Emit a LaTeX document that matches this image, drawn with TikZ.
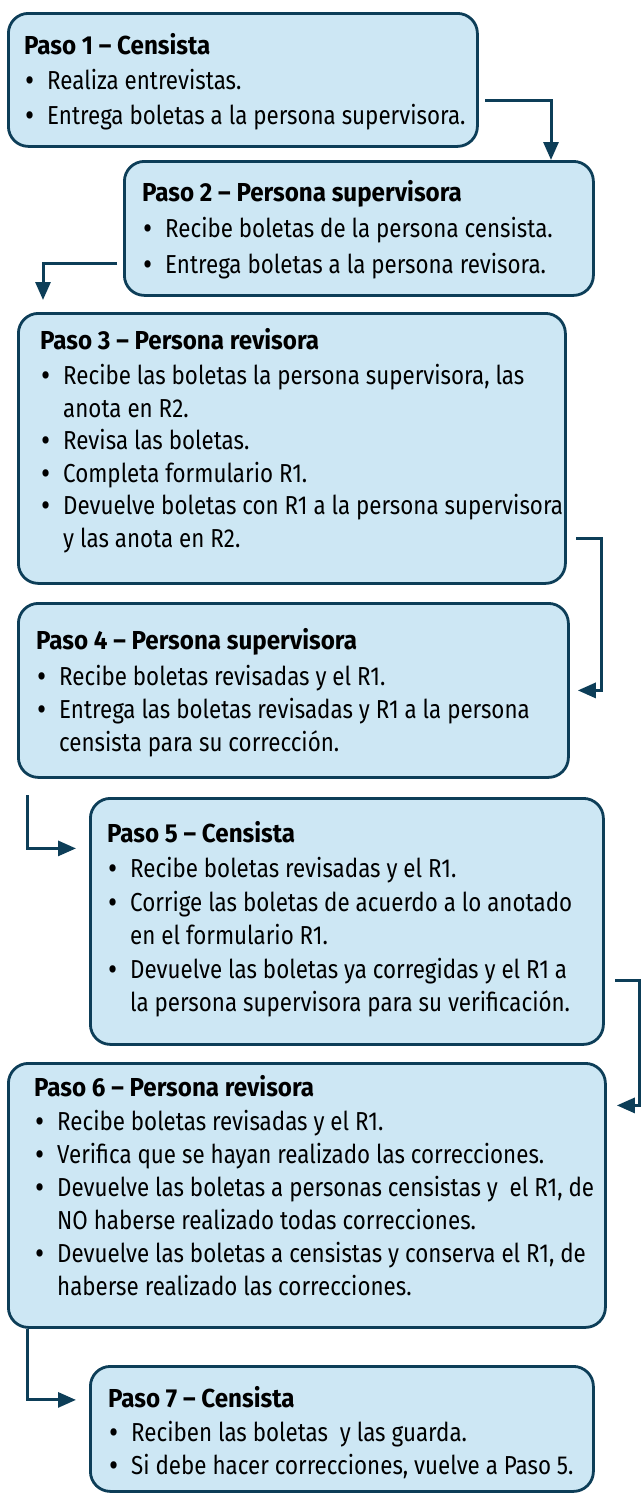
\documentclass[tikz,border=0pt]{standalone}
\usepackage{fontspec}
\setmainfont{Fira Sans}[FakeStretch=0.86,BoldFeatures={FakeStretch=0.93}]
\usetikzlibrary{arrows.meta,calc}
\definecolor{boxfill}{HTML}{CDE7F4}
\definecolor{boxline}{HTML}{0D3E58}
\newcommand{\bul}[1]{\hspace*{1pt}\makebox[22pt][l]{\raisebox{-2pt}{\scalebox{1.25}{\textbullet}}}#1}
\newcommand{\cnt}[1]{\hspace*{23pt}#1}
\newcommand{\ttl}[1]{\rule{0pt}{18pt}\textbf{#1}}
\begin{document}
\begin{tikzpicture}[x=1pt,y=-1pt,
  box/.style={draw=boxline,fill=boxfill,line width=2.8pt,rounded corners=20pt,
    rectangle,inner sep=0pt,anchor=north west},
  txt/.style={anchor=north west,inner sep=0pt,align=left,text=black},
  arr/.style={draw=boxline,line width=3pt,-{Triangle[length=18pt,width=15pt]}}]
\useasboundingbox (0,0) rectangle (641,1494);
% boxes
\node[box,minimum width=469pt,minimum height=133pt] (b1) at (7,12) {};
\node[box,minimum width=469pt,minimum height=134pt] (b2) at (123,160) {};
\node[box,minimum width=547pt,minimum height=270pt] (b3) at (17,312) {};
\node[box,minimum width=550pt,minimum height=174pt] (b4) at (17,602) {};
\node[box,minimum width=513pt,minimum height=246pt] (b5) at (89,797) {};
\node[box,minimum width=597pt,minimum height=264pt] (b6) at (7,1062) {};
\node[box,minimum width=503pt,minimum height=125pt] (b7) at (89,1365) {};
% texts
\node[txt,font={\fontsize{26}{35}\selectfont}] (t1) at (24,33) {%
\ttl{Paso 1 – Censista}\\
\bul{Realiza entrevistas.}\\
\bul{Entrega boletas a la persona supervisora.}};
\node[txt,font={\fontsize{26}{36}\selectfont}] (t2) at (142,180) {%
\ttl{Paso 2 – Persona supervisora}\\
\bul{Recibe boletas de la persona censista.}\\
\bul{Entrega boletas a la persona revisora.}};
\node[txt,font={\fontsize{26}{32.5}\selectfont}] (t3) at (40,328) {%
\ttl{Paso 3 – Persona revisora}\\[3pt]
\bul{Recibe las boletas la persona supervisora, las}\\
\cnt{anota en R2.}\\
\bul{Revisa las boletas.}\\
\bul{Completa formulario R1.}\\
\bul{Devuelve boletas con R1 a la persona supervisora}\\
\cnt{y las anota en R2.}};
\node[txt,font={\fontsize{26}{33}\selectfont}] (t4) at (36,628) {%
\ttl{Paso 4 – Persona supervisora}\\[3pt]
\bul{Recibe boletas revisadas y el R1.}\\
\bul{Entrega las boletas revisadas y R1 a la persona}\\
\cnt{censista para su corrección.}};
\node[txt,font={\fontsize{26}{33.5}\selectfont}] (t5) at (107,821) {%
\ttl{Paso 5 – Censista}\\[2pt]
\bul{Recibe boletas revisadas y el R1.}\\
\bul{Corrige las boletas de acuerdo a lo anotado}\\
\cnt{en el formulario R1.}\\
\bul{Devuelve las boletas ya corregidas y el R1 a}\\
\cnt{la persona supervisora para su verificación.}};
\node[txt,font={\fontsize{26}{33}\selectfont}] (t6) at (34,1075) {%
\ttl{Paso 6 – Persona revisora}\\[1pt]
\bul{Recibe boletas revisadas y el R1.}\\
\bul{Verifica que se hayan realizado las correcciones.}\\
\bul{Devuelve las boletas a personas censistas y \ el R1, de}\\
\cnt{NO haberse realizado todas correcciones.}\\
\bul{Devuelve las boletas a censistas y conserva el R1, de}\\
\cnt{haberse realizado las correcciones.}};
\node[txt,font={\fontsize{26}{33}\selectfont}] (t7) at (108,1386) {%
\ttl{Paso 7 – Censista}\\[1pt]
\bul{Reciben las boletas \ y las guarda.}\\
\bul{Si debe hacer correcciones, vuelve a Paso 5.}};
% connectors
\coordinate (s1) at (485,100);
\coordinate (s2) at (117,263);
\coordinate (e2) at (43,300);
\coordinate (s3) at (576,538);
\coordinate (k3) at (601,538);
\coordinate (s4) at (27,795);
\coordinate (s5) at (615,980);
\coordinate (k5) at (639,980);
\draw[arr] (s1) -| ($(b2.north west)+(428,0)$);
\draw[arr] (s2) -| (e2);
\draw[arr] (s3) -- (k3) |- ($(b4.east)+(8,0)$);
\draw[arr] (s4) |- ($(b5.west)+(-13,-73)$);
\draw[arr] (s5) -- (k5) |- ($(b6.east)+(10,-90)$);
\draw[arr] (27,0 |- b6.south) |- ($(b7.west)+(-13,-29)$);
\end{tikzpicture}
\end{document}
